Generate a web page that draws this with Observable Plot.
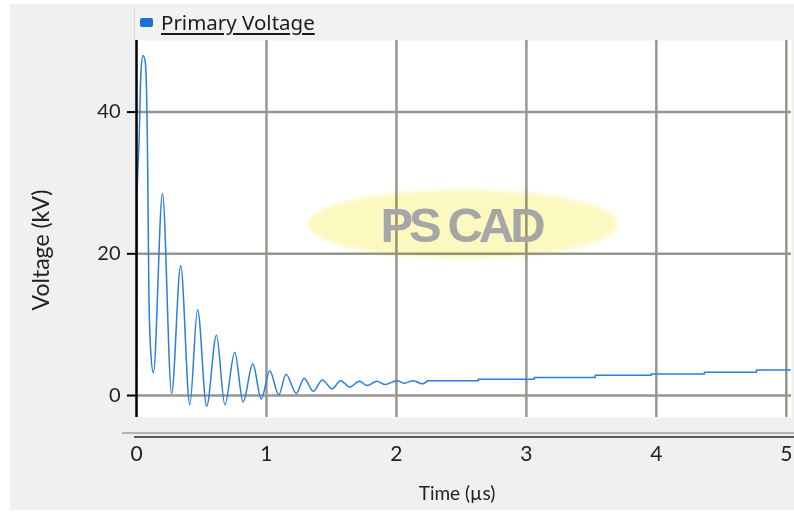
<!DOCTYPE html>
<html>
<head>
<meta charset="utf-8">
<script src="https://cdn.jsdelivr.net/npm/d3@7"></script>
<script src="https://cdn.jsdelivr.net/npm/@observablehq/plot@0.6"></script>
<style>
  html, body { margin: 0; padding: 0; background: #ffffff; }
  #wrap { position: relative; width: 794px; height: 517px; overflow: hidden; }
  #panel { position: absolute; left: 10px; top: 4px; width: 784px; height: 506px; background: #f0f0f0; }
  #legendbar { position: absolute; left: 134px; top: 8px; width: 660px; height: 32px; background: #f2f2f2; border-left: 1px solid #dcdcdc; }
  #legswatch { position: absolute; left: 140px; top: 18px; width: 13px; height: 9px; border-radius: 2px; background: #1f6fd1; }
  #legtext { position: absolute; left: 161px; top: 9px; font-family: "Noto Sans", sans-serif; font-size: 20.5px; line-height: 26px; color: #1a1a1a; text-decoration: underline; text-underline-offset: 3px; }
  #chart { position: absolute; left: 0; top: 0; }
  #line1 { position: absolute; left: 122px; top: 432px; width: 672px; height: 2px; background: #b3b3b3; }
  #line2 { position: absolute; left: 134px; top: 436px; width: 660px; height: 2px; background: #5c5c5c; }
  #xtitle { position: absolute; left: 457px; top: 492px; transform: translate(-50%, -50%); font-family: Lato, sans-serif; font-size: 19px; color: #222; white-space: nowrap; }
  #ytitle { position: absolute; left: 40px; top: 250px; transform: translate(-50%, -50%) rotate(-90deg); font-family: Lato, sans-serif; font-size: 23px; color: #222; white-space: nowrap; }
  #wmellipse { position: absolute; left: 308px; top: 190px; width: 310px; height: 68px; border-radius: 50%; background: #fbf8c0; filter: blur(2px); mix-blend-mode: multiply; }
  #wmtext { position: absolute; left: 461px; top: 225px; transform: translate(-50%, -50%); font-family: "Liberation Sans", Arial, sans-serif; font-weight: bold; font-size: 49px; letter-spacing: -4px; color: #a6a6a6; white-space: nowrap; }
</style>
</head>
<body>
<div id="wrap">
  <div id="panel"></div>
  <div id="legendbar"></div>
  <div id="legswatch"></div>
  <div id="legtext">Primary Voltage</div>
  <div id="chart"></div>
  <div id="line1"></div>
  <div id="line2"></div>
  <div id="xtitle">Time (µs)</div>
  <div id="ytitle">Voltage (kV)</div>
  <div id="wmellipse"></div>
  <div id="wmtext">PS CAD</div>
</div>
<script>
// Oscillating part of the primary voltage (time in µs, voltage in kV)
const oscTime = [0, 0.005, 0.02, 0.035, 0.05, 0.068, 0.085, 0.095, 0.11, 0.13,
  0.2, 0.27, 0.34, 0.41, 0.47, 0.54, 0.615, 0.68, 0.756, 0.82, 0.895, 0.96,
  1.025, 1.095, 1.15, 1.23, 1.29, 1.36, 1.43, 1.505, 1.57, 1.64, 1.715, 1.775,
  1.85, 1.91, 2.005, 2.06, 2.13, 2.2, 2.24];
const oscVolt = [3.5, 28, 36, 46, 48, 47, 34, 15, 6, 3.2,
  28.5, 0.3, 18.3, -1.3, 12.1, -1.5, 8.5, -1.3, 6.1, -0.9, 4.5, -0.5,
  3.5, 0.1, 3.0, 0.3, 2.45, 0.6, 2.2, 0.95, 2.1, 1.2, 2.0, 1.4,
  2.0, 1.55, 2.1, 1.75, 2.1, 1.65, 2.1];

// Stepped tail
const stepTime = [2.24, 2.63, 3.06, 3.53, 3.96, 4.37, 4.77, 5.03];
const stepVolt = [2.1, 2.3, 2.55, 2.85, 3.05, 3.3, 3.6, 3.6];

const xTicks = [0, 1, 2, 3, 4, 5];
const yTicks = [0, 20, 40];
const xGrid = [1, 2, 3, 4, 5];
const xDomain = [0, 5.04];
const yDomain = [-3.1, 50.1];

const osc = oscTime.map((t, i) => ({t, v: oscVolt[i]}));
const stair = stepTime.map((t, i) => ({t, v: stepVolt[i]}));

const gridColor = "#9a968f";
const lineColor = "#2b7ddf";

const chart = Plot.plot({
  width: 794,
  height: 517,
  marginLeft: 136,
  marginRight: 3,
  marginTop: 40,
  marginBottom: 100,
  style: { background: "transparent", fontFamily: "Lato, sans-serif", fontSize: "19px", color: "#222", overflow: "visible" },
  x: { domain: xDomain },
  y: { domain: yDomain },
  marks: [
    Plot.frame({ fill: "white", stroke: null }),
    Plot.gridX(xGrid, { stroke: gridColor, strokeOpacity: 1, strokeWidth: 2.5 }),
    Plot.gridY(yTicks, { stroke: gridColor, strokeOpacity: 1, strokeWidth: 2.5 }),
    Plot.line(osc, { x: "t", y: "v", stroke: lineColor, strokeWidth: 1.5, curve: "monotone-x", clip: true }),
    Plot.line(stair, { x: "t", y: "v", stroke: lineColor, strokeWidth: 1.5, curve: "step-after", clip: true }),
    Plot.ruleX([0], { stroke: "black", strokeWidth: 2.5 }),
    Plot.axisY(yTicks, { tickSize: 9, tickPadding: 7, stroke: "black", strokeWidth: 2, fontSize: 20, tickFormat: d => String(d), label: null }),
    Plot.axisX(xTicks, { tickSize: 0, tickPadding: 29, fontSize: 21, tickFormat: d => String(d), label: null })
  ]
});
document.getElementById("chart").appendChild(chart);
</script>
</body>
</html>
